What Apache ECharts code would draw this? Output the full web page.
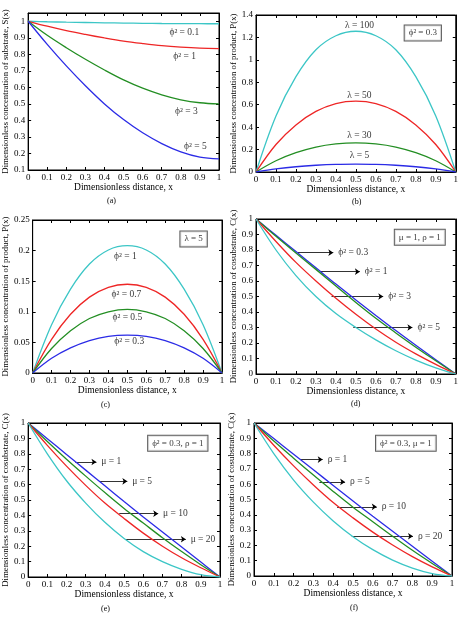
<!DOCTYPE html>
<html>
<head>
<meta charset="utf-8">
<script src="https://cdn.jsdelivr.net/npm/echarts@6/dist/echarts.min.js"></script>
<style>
html, body { margin: 0; padding: 0; background: #fff; }
#main { width: 461px; height: 617px; }
</style>
</head>
<body>
<div id="main"></div>
<script>
var xs = [0, 0.1, 0.2, 0.3, 0.4, 0.5, 0.6, 0.7, 0.8, 0.9, 1];

// (a) substrate S(x)
var aPhi01 = [1, 0.997, 0.9945, 0.9925, 0.9905, 0.989, 0.9875, 0.9865, 0.9857, 0.9852, 0.985];
var aPhi1 = [1, 0.970, 0.943, 0.920, 0.899, 0.880, 0.865, 0.852, 0.843, 0.837, 0.835];
var aPhi3 = [1, 0.915, 0.840, 0.770, 0.705, 0.645, 0.595, 0.555, 0.525, 0.507, 0.500];
var aPhi5 = [1, 0.860, 0.730, 0.610, 0.500, 0.405, 0.325, 0.260, 0.210, 0.178, 0.167];

// (b) product P(x), phi^2 = 0.3
var bLam100 = [0, 0.50, 0.85, 1.09, 1.215, 1.255, 1.215, 1.09, 0.85, 0.50, 0];
var bLam50 = [0, 0.245, 0.42, 0.54, 0.61, 0.632, 0.61, 0.54, 0.42, 0.245, 0];
var bLam30 = [0, 0.10, 0.172, 0.222, 0.25, 0.26, 0.25, 0.222, 0.172, 0.10, 0];
var bLam5 = [0, 0.027, 0.047, 0.06, 0.068, 0.07, 0.068, 0.06, 0.047, 0.027, 0];

// (c) product P(x), lambda = 5
var cPhi1 = [0, 0.079, 0.137, 0.178, 0.201, 0.208, 0.201, 0.178, 0.137, 0.079, 0];
var cPhi07 = [0, 0.055, 0.096, 0.124, 0.140, 0.145, 0.140, 0.124, 0.096, 0.055, 0];
var cPhi05 = [0, 0.040, 0.069, 0.089, 0.100, 0.104, 0.100, 0.089, 0.069, 0.040, 0];
var cPhi03 = [0, 0.024, 0.041, 0.053, 0.060, 0.062, 0.060, 0.053, 0.041, 0.024, 0];

// (d) cosubstrate C(x), mu = 1, rho = 1
var dPhi03 = [1, 0.895, 0.79, 0.685, 0.58, 0.478, 0.378, 0.28, 0.185, 0.092, 0];
var dPhi1 = [1, 0.888, 0.78, 0.675, 0.568, 0.462, 0.36, 0.265, 0.173, 0.085, 0];
var dPhi3 = [1, 0.855, 0.72, 0.60, 0.488, 0.385, 0.29, 0.205, 0.13, 0.062, 0];
var dPhi5 = [1, 0.80, 0.635, 0.50, 0.39, 0.30, 0.22, 0.15, 0.09, 0.04, 0];

// (e) cosubstrate, phi^2 = 0.3, rho = 1
var eMu1 = [1, 0.898, 0.796, 0.694, 0.592, 0.49, 0.39, 0.292, 0.195, 0.097, 0];
var eMu5 = [1, 0.88, 0.765, 0.655, 0.548, 0.445, 0.35, 0.255, 0.165, 0.08, 0];
var eMu10 = [1, 0.855, 0.72, 0.595, 0.48, 0.38, 0.285, 0.20, 0.125, 0.06, 0];
var eMu20 = [1, 0.80, 0.625, 0.48, 0.355, 0.25, 0.165, 0.10, 0.05, 0.015, 0];

// (f) cosubstrate, phi^2 = 0.3, mu = 1
var fRho1 = [1, 0.898, 0.796, 0.694, 0.592, 0.49, 0.39, 0.292, 0.195, 0.097, 0];
var fRho5 = [1, 0.882, 0.77, 0.66, 0.553, 0.45, 0.355, 0.26, 0.168, 0.082, 0];
var fRho10 = [1, 0.855, 0.72, 0.595, 0.48, 0.38, 0.287, 0.203, 0.127, 0.06, 0];
var fRho20 = [1, 0.80, 0.627, 0.483, 0.36, 0.257, 0.172, 0.104, 0.052, 0.016, 0];

// curve labels [x, y, text]
var aNotes = [[0.74, 0.93, 'ϕ² = 0.1'], [0.76, 0.787, 'ϕ² = 1'], [0.77, 0.453, 'ϕ² = 3'], [0.817, 0.24, 'ϕ² = 5']];
var bNotes = [[0.518, 1.31, 'λ = 100'], [0.518, 0.685, 'λ = 50'], [0.518, 0.328, 'λ = 30'], [0.518, 0.149, 'λ = 5']];
var cNotes = [[0.49, 0.19, 'ϕ² = 1'], [0.495, 0.129, 'ϕ² = 0.7'], [0.50, 0.090, 'ϕ² = 0.5'], [0.51, 0.052, 'ϕ² = 0.3']];

// arrows [xStart, xEnd, y, text]
var dArrows = [[0.21, 0.387, 0.783, 'ϕ² = 0.3'], [0.32, 0.52, 0.66, 'ϕ² = 1'], [0.378, 0.637, 0.50, 'ϕ² = 3'], [0.487, 0.783, 0.30, 'ϕ² = 5']];
var eArrows = [[0.246, 0.356, 0.747, 'μ = 1'], [0.373, 0.517, 0.621, 'μ = 5'], [0.475, 0.678, 0.411, 'μ = 10'], [0.505, 0.822, 0.245, 'μ = 20']];
var fArrows = [[0.233, 0.347, 0.761, 'ρ = 1'], [0.33, 0.46, 0.615, 'ρ = 5'], [0.42, 0.62, 0.452, 'ρ = 10'], [0.494, 0.803, 0.26, 'ρ = 20']];

// boxed notes [x, y, text]
var bBox = [[0.835, 1.24, 'ϕ² = 0.3']];
var cBox = [[0.85, 0.219, 'λ = 5']];
var dBox = [[0.82, 0.882, 'μ = 1, ρ = 1']];
var eBox = [[0.78, 0.868, 'ϕ² = 0.3, ρ = 1']];
var fBox = [[0.767, 0.867, 'ϕ² = 0.3, μ = 1']];

var CYAN = '#3cc6c6', RED = '#ee2626', GREEN = '#238e23', BLUE = '#2b2be6';
var FONT = 'Liberation Serif';

var panels = [
    { box: [21, 13, 198, 157], ymin: 0.1, ymax: 1.05, yint: 0.1, yname: 'Dimensionless concentration of substrate, S(x)', cap: '(a)', capPos: [113, 202],
      curves: [[aPhi01, CYAN], [aPhi1, RED], [aPhi3, GREEN], [aPhi5, BLUE]], notes: aNotes, notePos: 'right' },
    { box: [256, 15, 201, 157], ymin: 0, ymax: 1.4, yint: 0.2, yname: 'Dimensionless concentration of product, P(x)', cap: '(b)', capPos: [358, 203],
      curves: [[bLam100, CYAN], [bLam50, RED], [bLam30, GREEN], [bLam5, BLUE]], notes: bNotes, notePos: 'inside', boxes: bBox },
    { box: [25, 220, 197, 153], ymin: 0, ymax: 0.25, yint: 0.05, yname: 'Dimensionless concentration of product, P(x)', cap: '(c)', capPos: [107, 406],
      curves: [[cPhi1, CYAN], [cPhi07, RED], [cPhi05, GREEN], [cPhi03, BLUE]], notes: cNotes, notePos: 'inside', boxes: cBox },
    { box: [256, 219, 200, 155], ymin: 0, ymax: 1, yint: 0.1, yname: 'Dimensionless concentration of cosubstrate, C(x)', cap: '(d)', capPos: [357, 405],
      curves: [[dPhi03, BLUE], [dPhi1, GREEN], [dPhi3, RED], [dPhi5, CYAN]], arrows: dArrows, boxes: dBox },
    { box: [23, 423, 197, 154], ymin: 0, ymax: 1, yint: 0.1, yname: 'Dimensionless concentration of cosubstrate, C(x)', cap: '(e)', capPos: [107, 610],
      curves: [[eMu1, BLUE], [eMu5, GREEN], [eMu10, RED], [eMu20, CYAN]], arrows: eArrows, boxes: eBox },
    { box: [254, 423, 198, 153], ymin: 0, ymax: 1, yint: 0.1, yname: 'Dimensionless concentration of cosubstrate, C(x)', cap: '(f)', capPos: [356, 609],
      curves: [[fRho1, BLUE], [fRho5, GREEN], [fRho10, RED], [fRho20, CYAN]], arrows: fArrows, boxes: fBox }
];

var grids = [], xAxes = [], yAxes = [], series = [], graphics = [];

function tickAxis(gi, pos, min, max, interval) {
    return {
        gridIndex: gi, type: 'value', position: pos, min: min, max: max, interval: interval,
        axisLine: { show: true, onZero: false, lineStyle: { color: '#000', width: 1 } },
        axisTick: { show: true, inside: true, length: 3, lineStyle: { color: '#000' } },
        axisLabel: { show: false },
        splitLine: { show: false }
    };
}

panels.forEach(function (p, i) {
    grids.push({
        left: p.box[0], top: p.box[1], width: p.box[2], height: p.box[3],
        show: true, borderColor: '#000', borderWidth: 1
    });
    var xa = tickAxis(i, 'bottom', 0, 1, 0.1);
    xa.axisLabel = { show: true, color: '#000', fontFamily: FONT, fontSize: 9, margin: 3 };
    xa.name = 'Dimensionless distance, x';
    xa.nameLocation = 'middle';
    xa.nameGap = 12;
    xa.nameTextStyle = { color: '#000', fontFamily: FONT, fontSize: 9.5 };
    xAxes.push(xa);
    xAxes.push(tickAxis(i, 'top', 0, 1, 0.1));

    var ya = tickAxis(i, 'left', p.ymin, p.ymax, p.yint);
    ya.axisLabel = { show: true, color: '#000', fontFamily: FONT, fontSize: 9, margin: 3, showMaxLabel: p.ymax === 1.05 ? false : true };
    ya.name = p.yname;
    ya.nameLocation = 'middle';
    ya.nameGap = p.yint === 0.2 || p.yint === 0.05 ? 16 : 13;
    ya.nameTextStyle = { color: '#000', fontFamily: FONT, fontSize: 8.8 };
    yAxes.push(ya);
    yAxes.push(tickAxis(i, 'right', p.ymin, p.ymax, p.yint));

    p.curves.forEach(function (c) {
        series.push({
            type: 'line', xAxisIndex: 2 * i, yAxisIndex: 2 * i, smooth: 0.35, symbol: 'none',
            lineStyle: { color: c[1], width: 1.3 },
            data: xs.map(function (x, k) { return [x, c[0][k]]; })
        });
    });

    if (p.notes) {
        series.push({
            type: 'scatter', xAxisIndex: 2 * i, yAxisIndex: 2 * i, symbolSize: 0,
            label: {
                show: true, position: p.notePos, distance: 0, color: '#000', fontFamily: FONT, fontSize: 9.5,
                formatter: function (d) { return d.data[2]; }
            },
            data: p.notes
        });
    }

    if (p.arrows) {
        series.push({
            type: 'lines', coordinateSystem: 'cartesian2d', xAxisIndex: 2 * i, yAxisIndex: 2 * i,
            symbol: ['none', 'arrow'], symbolSize: 5,
            lineStyle: { color: '#000', width: 0.8, opacity: 1 },
            data: p.arrows.map(function (a) { return { coords: [[a[0], a[2]], [a[1], a[2]]] }; })
        });
        series.push({
            type: 'scatter', xAxisIndex: 2 * i, yAxisIndex: 2 * i, symbolSize: 0,
            label: {
                show: true, position: 'right', distance: 0, color: '#000', fontFamily: FONT, fontSize: 9.5,
                formatter: function (d) { return d.data[2]; }
            },
            data: p.arrows.map(function (a) { return [a[1] + 0.025, a[2], a[3]]; })
        });
    }

    if (p.boxes) {
        series.push({
            type: 'scatter', xAxisIndex: 2 * i, yAxisIndex: 2 * i, symbolSize: 0,
            label: {
                show: true, position: 'inside', color: '#000', fontFamily: FONT, fontSize: 9,
                backgroundColor: '#fff', borderColor: '#333', borderWidth: 1, padding: [3, 4],
                formatter: function (d) { return d.data[2]; }
            },
            data: p.boxes
        });
    }

    graphics.push({
        type: 'text', left: p.capPos[0] - 6, top: p.capPos[1] - 5,
        style: { text: p.cap, fill: '#000', font: '8px "Liberation Serif"' }
    });
});

var myChart = echarts.init(document.getElementById('main'), null, { renderer: 'canvas' });
myChart.setOption({
    backgroundColor: '#fff',
    animation: false,
    grid: grids,
    xAxis: xAxes,
    yAxis: yAxes,
    series: series,
    graphic: graphics
});
</script>
</body>
</html>
